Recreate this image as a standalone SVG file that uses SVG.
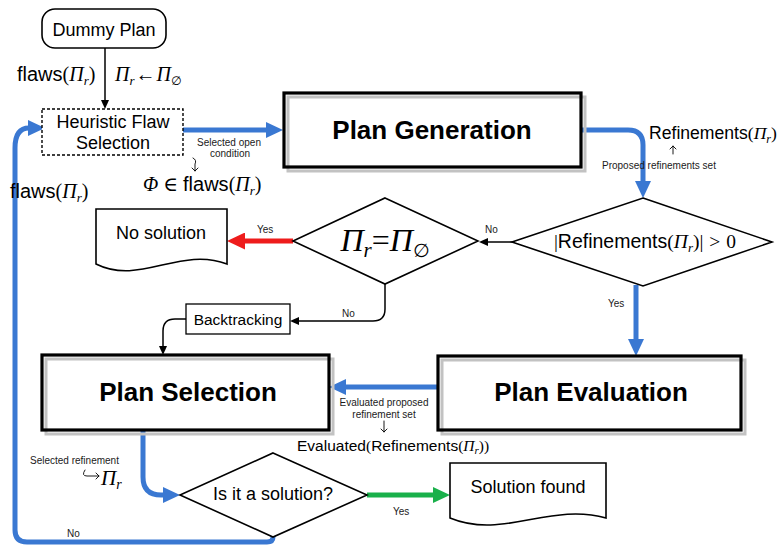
<svg xmlns="http://www.w3.org/2000/svg" width="781" height="548" viewBox="0 0 781 548">
  <style>
    .sans { font-family: "Liberation Sans", Arial, sans-serif; fill: #000; }
    .node { font-size: 18px; text-anchor: middle; }
    .big { font-size: 26px; font-weight: bold; text-anchor: middle; }
    .small { font-size: 10px; fill: #1a1a1a; }
    .mid { text-anchor: middle; }
    .math { font-family: "Liberation Serif", "DejaVu Serif", serif; font-size: 20px; fill: #000; }
    .sf { font-family: "Liberation Sans", Arial, sans-serif; }
    .it { font-style: italic; }
    .sub { font-size: 13px; font-style: italic; }
    .empty { font-family: "DejaVu Sans", sans-serif; }
    .shape { fill: #fff; stroke: #000; stroke-width: 1.6; }
    .dashed { fill: #fff; stroke: #000; stroke-width: 1.4; stroke-dasharray: 3 2; }
    .boxfill { fill: #fff; stroke: none; }
    .boxshadow { fill: none; stroke: #c2c2c2; stroke-width: 3; }
    .boxline { fill: none; stroke: #000; stroke-width: 3.2; }
    .blue { fill: none; stroke: #3a78d2; stroke-width: 5; }
    .red { fill: none; stroke: #ee1c1c; stroke-width: 5; }
    .green { fill: none; stroke: #19b04a; stroke-width: 5; }
    .thin { fill: none; stroke: #000; stroke-width: 1.5; }
    .pointer { fill: none; stroke: #000; stroke-width: 0.9; stroke-linecap: round; stroke-linejoin: round; }
  </style>
  <defs>
    <marker id="headBlue" markerUnits="userSpaceOnUse" markerWidth="17" markerHeight="16" refX="1" refY="8" orient="auto">
      <path d="M0,0 L17,8 L0,16 z" fill="#3a78d2"/>
    </marker>
    <marker id="headRed" markerUnits="userSpaceOnUse" markerWidth="18" markerHeight="17" refX="1" refY="8.5" orient="auto">
      <path d="M0,0 L18,8.5 L0,17 z" fill="#ee1c1c"/>
    </marker>
    <marker id="headGreen" markerUnits="userSpaceOnUse" markerWidth="17" markerHeight="16" refX="1" refY="8" orient="auto">
      <path d="M0,0 L17,8 L0,16 z" fill="#19b04a"/>
    </marker>
    <marker id="headBlack" markerUnits="userSpaceOnUse" markerWidth="9" markerHeight="8" refX="1" refY="4" orient="auto">
      <path d="M0,0 L9,4 L0,8 z" fill="#000"/>
    </marker>
    <marker id="headOpen" markerUnits="userSpaceOnUse" markerWidth="8" markerHeight="8" refX="4" refY="4" orient="auto">
      <path d="M1,1 L4,4 L1,7" fill="none" stroke="#000" stroke-width="0.9" stroke-linecap="round"/>
    </marker>
  </defs>

  <!-- connectors -->
  <g id="connectors">
    <path class="thin" d="M105,48 L105,101" marker-end="url(#headBlack)"/>
    <path class="blue" d="M183,130 L267,130" marker-end="url(#headBlue)"/>
    <path class="blue" d="M579,130 L628,130 Q643,130 643,145 L643,182" marker-end="url(#headBlue)"/>
    <path class="thin" d="M512,242 L487,242" marker-end="url(#headBlack)"/>
    <path class="red" d="M293,241 L244,241" marker-end="url(#headRed)"/>
    <path class="thin" d="M385,283 L385,309 Q385,321 373,321 L298,321" marker-end="url(#headBlack)"/>
    <path class="thin" d="M186,319 L175,319 Q163,319 163,331 L163,347" marker-end="url(#headBlack)"/>
    <path class="blue" d="M636,285 L636,340" marker-end="url(#headBlue)"/>
    <path class="blue" d="M438,387 L345,387" marker-end="url(#headBlue)"/>
    <path class="blue" d="M143,431 L143,477 Q143,495 161,495 L164,495" marker-end="url(#headBlue)"/>
    <path class="green" d="M367,495 L434,495" marker-end="url(#headGreen)"/>
    <path class="blue" d="M273,536 L273,537 Q273,542 267,542 L27,542 Q15,542 15,530 L15,148 Q15,128 29,128" marker-end="url(#headBlue)"/>
  </g>

  <!-- start node -->
  <g id="dummy-plan">
    <rect class="shape" x="42" y="9" width="124" height="39" rx="13"/>
    <text class="sans node" x="104" y="36">Dummy Plan</text>
  </g>

  <g id="heuristic-flaw-selection">
    <rect class="dashed" x="42" y="109" width="141" height="46"/>
    <text class="sans node" x="113" y="128">Heuristic Flaw</text>
    <text class="sans node" x="113" y="149">Selection</text>
  </g>

  <g id="plan-generation">
    <rect class="boxfill" x="284" y="93" width="297" height="74"/>
    <rect class="boxshadow" x="288" y="97" width="297" height="74"/>
    <rect class="boxline" x="284" y="93" width="297" height="74"/>
    <text class="sans big" x="432" y="139">Plan Generation</text>
  </g>

  <g id="refinements-check">
    <polygon class="shape" points="643,198 772,242 643,286 512,242"/>
    <text class="math mid" x="645" y="248" style="font-size:19.5px"><tspan>|</tspan><tspan class="sf">Refinements</tspan><tspan>(</tspan><tspan class="it">Π</tspan><tspan class="sub" dy="4">r</tspan><tspan dy="-4">)|</tspan><tspan dx="6">&gt;</tspan><tspan dx="6">0</tspan></text>
  </g>

  <g id="empty-plan-check">
    <polygon class="shape" points="385,198 478,241 385,284 293,241"/>
    <text class="math mid" x="385" y="251" style="font-size:32px"><tspan class="it">Π</tspan><tspan class="it" style="font-size:21px" dy="6">r</tspan><tspan dy="-6">=</tspan><tspan class="it">Π</tspan><tspan class="empty" style="font-size:19px" dy="6">∅</tspan></text>
  </g>

  <g id="no-solution">
    <path class="shape" d="M96,209 L227,209 L227,264 C180,246 140,286 96,264 Z"/>
    <text class="sans node" x="161" y="239">No solution</text>
  </g>

  <g id="backtracking">
    <rect class="shape" x="186" y="304" width="104" height="30" style="stroke-width:1.3"/>
    <text class="sans" x="238" y="325" style="font-size:15.5px;text-anchor:middle">Backtracking</text>
  </g>

  <g id="plan-selection">
    <rect class="boxfill" x="42" y="355" width="287" height="75"/>
    <rect class="boxshadow" x="46" y="359" width="287" height="75"/>
    <rect class="boxline" x="42" y="355" width="287" height="75"/>
    <text class="sans big" x="188" y="401">Plan Selection</text>
  </g>

  <g id="plan-evaluation">
    <rect class="boxfill" x="438" y="356" width="303" height="74"/>
    <rect class="boxshadow" x="442" y="360" width="303" height="74"/>
    <rect class="boxline" x="438" y="356" width="303" height="74"/>
    <text class="sans big" x="591" y="401">Plan Evaluation</text>
  </g>

  <g id="solution-check">
    <polygon class="shape" points="273,453 367,495 273,537 180,495"/>
    <text class="sans node" x="273" y="500">Is it a solution?</text>
  </g>

  <g id="solution-found">
    <path class="shape" d="M450,463 L606,463 L606,518 C550,502 503,540 450,518 Z"/>
    <text class="sans node" x="528" y="493">Solution found</text>
  </g>

  <!-- small pointer arrows tying labels to their annotations -->
  <g id="label-pointers">
    <path class="pointer" d="M193,158 Q197,160 195,164 L195,171" marker-end="url(#headOpen)"/>
    <path class="pointer" d="M673,154 L673,146" marker-end="url(#headOpen)"/>
    <path class="pointer" d="M384,421 L384,432" marker-end="url(#headOpen)"/>
    <path class="pointer" d="M85,470 Q81,476 87,476 L99,476" marker-end="url(#headOpen)"/>
  </g>

  <!-- edge labels -->
  <g id="labels">
    <text class="math" x="17" y="81"><tspan class="sf">flaws</tspan><tspan>(</tspan><tspan class="it">Π</tspan><tspan class="sub" dy="4">r</tspan><tspan dy="-4">)</tspan></text>
    <text class="math" x="115" y="81"><tspan class="it">Π</tspan><tspan class="sub" dy="4">r</tspan><tspan dy="-4" dx="1">←</tspan><tspan class="it" dx="1">Π</tspan><tspan class="empty" style="font-size:12px" dy="4">∅</tspan></text>

    <text class="sans small mid" x="229" y="146">Selected open</text>
    <text class="sans small mid" x="230" y="157">condition</text>
    <text class="math" x="143" y="191"><tspan class="it">Φ</tspan><tspan dx="5">∈</tspan><tspan class="sf" dx="5">flaws</tspan><tspan>(</tspan><tspan class="it">Π</tspan><tspan class="sub" dy="4">r</tspan><tspan dy="-4">)</tspan></text>

    <text class="math" x="10" y="198"><tspan class="sf">flaws</tspan><tspan>(</tspan><tspan class="it">Π</tspan><tspan class="sub" dy="4">r</tspan><tspan dy="-4">)</tspan></text>

    <text class="math" x="649" y="139" style="font-size:17.6px"><tspan class="sf">Refinements</tspan><tspan>(</tspan><tspan class="it">Π</tspan><tspan class="sub" style="font-size:12px" dy="4">r</tspan><tspan dy="-4">)</tspan></text>
    <text class="sans small" x="602" y="169">Proposed refinements set</text>

    <text class="sans small" x="485" y="233">No</text>
    <text class="sans small" x="257" y="233">Yes</text>
    <text class="sans small" x="342" y="317">No</text>
    <text class="sans small" x="608" y="307">Yes</text>

    <text class="sans small mid" x="384" y="406">Evaluated proposed</text>
    <text class="sans small mid" x="384" y="418">refinement set</text>
    <text class="math" x="297" y="451" style="font-size:15.5px"><tspan class="sf">Evaluated</tspan><tspan>(</tspan><tspan class="sf">Refinements</tspan><tspan>(</tspan><tspan class="it">Π</tspan><tspan class="sub" style="font-size:11px" dy="3">r</tspan><tspan dy="-3">))</tspan></text>

    <text class="sans small" x="30" y="464">Selected refinement</text>
    <text class="math" x="101" y="485" style="font-size:21px"><tspan class="it">Π</tspan><tspan class="it" style="font-size:14px" dy="4">r</tspan></text>

    <text class="sans small" x="393" y="515">Yes</text>
    <text class="sans small" x="67" y="537">No</text>
  </g>
</svg>
